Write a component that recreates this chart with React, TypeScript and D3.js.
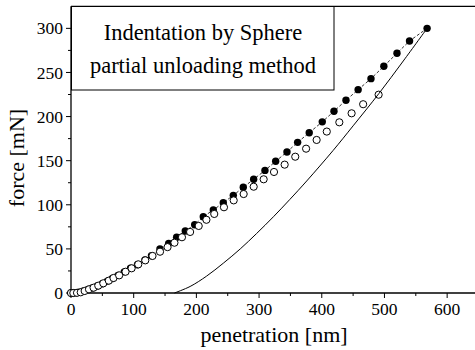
import React, { useEffect, useRef } from 'react';
import * as d3 from 'd3';

// loading (filled circles): [penetration nm, force mN]
const loadingPoints: [number, number][] = [
  [0, 0], [2, 0], [7, 0.2], [13, 0.8], [20, 2.2], [27, 4], [34, 5.8], [42, 8],
  [50, 10.5], [58, 13.5], [66, 16.5], [75, 20], [85, 24], [95, 28], [106, 32],
  [118, 37.4], [128.4, 42.3], [141.9, 49.9], [155.8, 56.3], [168.5, 63.2],
  [182.3, 70.3], [197.3, 77.4], [211, 86.5], [227, 94.1], [242.9, 102.4],
  [258.9, 110.7], [274.8, 119.8], [291.4, 128.9], [309.4, 139], [326.5, 149.3],
  [344.5, 159.9], [361.5, 170.8], [380, 181.7], [400.8, 194], [419.5, 206],
  [438.6, 218.5], [458, 230.5], [478.5, 243], [499, 257], [520, 271.8],
  [540, 285.7], [568, 300],
];

// partial unloading (open circles)
const unloadingPoints: [number, number][] = [
  [0, 0], [3.7, 0], [9.6, 0.2], [15.5, 0.8], [21.8, 2.3], [28.7, 4.2], [36, 6],
  [43.5, 8.3], [51.5, 11], [60.3, 14], [67.8, 17], [76.8, 20], [87, 24.1],
  [96.7, 28], [107.3, 32.5], [118.5, 37], [130, 42], [142, 46.8], [154, 52],
  [165, 57], [177, 63.2], [190, 69.2], [203.7, 76], [216, 83], [228.5, 89.6],
  [244, 97.2], [259.5, 105], [275.4, 112.2], [291.4, 120.5], [307.3, 128.9],
  [323.8, 137.2], [340.8, 145.5], [357.7, 154.5], [375, 163.6], [391.8, 173.5],
  [408, 183], [428, 193.5], [447.6, 203.7], [466, 214], [490.7, 224.8],
];

// final unloading curve (solid line)
const unloadCurve: [number, number][] = [
  [165, 0], [190, 7.4], [216, 19], [243, 33.8], [270, 50], [296, 67.4],
  [323, 86.5], [349, 106], [376, 127], [418, 161.5], [450, 189.5], [491, 226],
  [530, 263], [568, 300],
];

const xTicks = [0, 100, 200, 300, 400, 500, 600];
const xMinor = [50, 150, 250, 350, 450, 550, 650];
const yTicks = [0, 50, 100, 150, 200, 250, 300];
const yMinor = [25, 75, 125, 175, 225, 275];

const titleLines = ['Indentation by Sphere', 'partial unloading method'];

const App = () => {
  const ref = useRef<SVGSVGElement>(null);

  useEffect(() => {
    const svg = d3.select(ref.current);
    svg.selectAll('*').remove();

    const font = "'Liberation Serif', 'Times New Roman', serif";
    const x = d3.scaleLinear().domain([0, 650]).range([71, 478.5]);
    const y = d3.scaleLinear().domain([0, 325]).range([293, 6.3]);

    svg.append('clipPath').attr('id', 'plot-clip')
      .append('rect')
      .attr('x', 64).attr('y', 0).attr('width', 420).attr('height', 300);

    // frame top line
    svg.append('line')
      .attr('x1', x(0)).attr('x2', 475)
      .attr('y1', y(325)).attr('y2', y(325))
      .attr('stroke', '#000').attr('stroke-width', 1.3);

    // bottom axis
    const xAxis = svg.append('g').attr('transform', `translate(0,${y(0)})`);
    xAxis.append('line')
      .attr('x1', x(0)).attr('x2', 475)
      .attr('stroke', '#000').attr('stroke-width', 1.3);
    xTicks.forEach(t => {
      xAxis.append('line').attr('x1', x(t)).attr('x2', x(t))
        .attr('y1', 0).attr('y2', 5).attr('stroke', '#000');
      xAxis.append('text').attr('x', x(t)).attr('y', 22)
        .attr('text-anchor', 'middle')
        .attr('font-family', font).attr('font-size', 17.5)
        .text(t);
    });
    xMinor.forEach(t => {
      xAxis.append('line').attr('x1', x(t)).attr('x2', x(t))
        .attr('y1', 0).attr('y2', 3).attr('stroke', '#000');
    });

    // left axis
    const yAxis = svg.append('g').attr('transform', `translate(${x(0)},0)`);
    yAxis.append('line')
      .attr('y1', y(0)).attr('y2', y(325))
      .attr('stroke', '#000').attr('stroke-width', 1.3);
    yTicks.forEach(t => {
      yAxis.append('line').attr('x1', -5).attr('x2', 0)
        .attr('y1', y(t)).attr('y2', y(t)).attr('stroke', '#000');
      yAxis.append('text').attr('x', -8).attr('y', y(t)).attr('dy', '0.35em')
        .attr('text-anchor', 'end')
        .attr('font-family', font).attr('font-size', 17.5)
        .text(t);
    });
    yMinor.forEach(t => {
      yAxis.append('line').attr('x1', -3).attr('x2', 0)
        .attr('y1', y(t)).attr('y2', y(t)).attr('stroke', '#000');
    });

    // axis titles
    svg.append('text')
      .attr('x', 274).attr('y', 342)
      .attr('text-anchor', 'middle')
      .attr('font-family', font).attr('font-size', 22)
      .text('penetration [nm]');
    svg.append('text')
      .attr('transform', 'translate(24,158) rotate(-90)')
      .attr('text-anchor', 'middle')
      .attr('font-family', font).attr('font-size', 22)
      .text('force [mN]');

    // title box
    svg.append('rect')
      .attr('x', 71.5).attr('y', 6.5).attr('width', 262.5).attr('height', 83.5)
      .attr('fill', '#fff').attr('stroke', '#000').attr('stroke-width', 1);
    titleLines.forEach((s, i) => {
      svg.append('text')
        .attr('x', 203).attr('y', 40 + i * 32.5)
        .attr('text-anchor', 'middle')
        .attr('font-family', font).attr('font-size', 22.5)
        .text(s);
    });

    const plot = svg.append('g').attr('clip-path', 'url(#plot-clip)');
    const line = d3.line<[number, number]>().x(d => x(d[0])).y(d => y(d[1]));

    // dashed line through loading points
    plot.append('path')
      .datum(loadingPoints)
      .attr('d', line)
      .attr('fill', 'none').attr('stroke', '#000')
      .attr('stroke-width', 0.8).attr('stroke-dasharray', '3,2');

    plot.selectAll('.filled')
      .data(loadingPoints)
      .enter().append('circle')
      .attr('cx', d => x(d[0])).attr('cy', d => y(d[1]))
      .attr('r', 3.7).attr('fill', '#000');

    plot.selectAll('.open')
      .data(unloadingPoints)
      .enter().append('circle')
      .attr('cx', d => x(d[0])).attr('cy', d => y(d[1]))
      .attr('r', 3.6).attr('fill', '#fff')
      .attr('stroke', '#000').attr('stroke-width', 1);

    const curve = d3.line<[number, number]>()
      .x(d => x(d[0])).y(d => y(d[1]))
      .curve(d3.curveCatmullRom);
    plot.append('path')
      .datum(unloadCurve)
      .attr('d', curve)
      .attr('fill', 'none').attr('stroke', '#000').attr('stroke-width', 1);
  }, []);

  return (
    <svg ref={ref} width={475} height={350}
      style={{ position: 'absolute', left: 0, top: 0, background: '#fff' }} />
  );
};

export default App;
